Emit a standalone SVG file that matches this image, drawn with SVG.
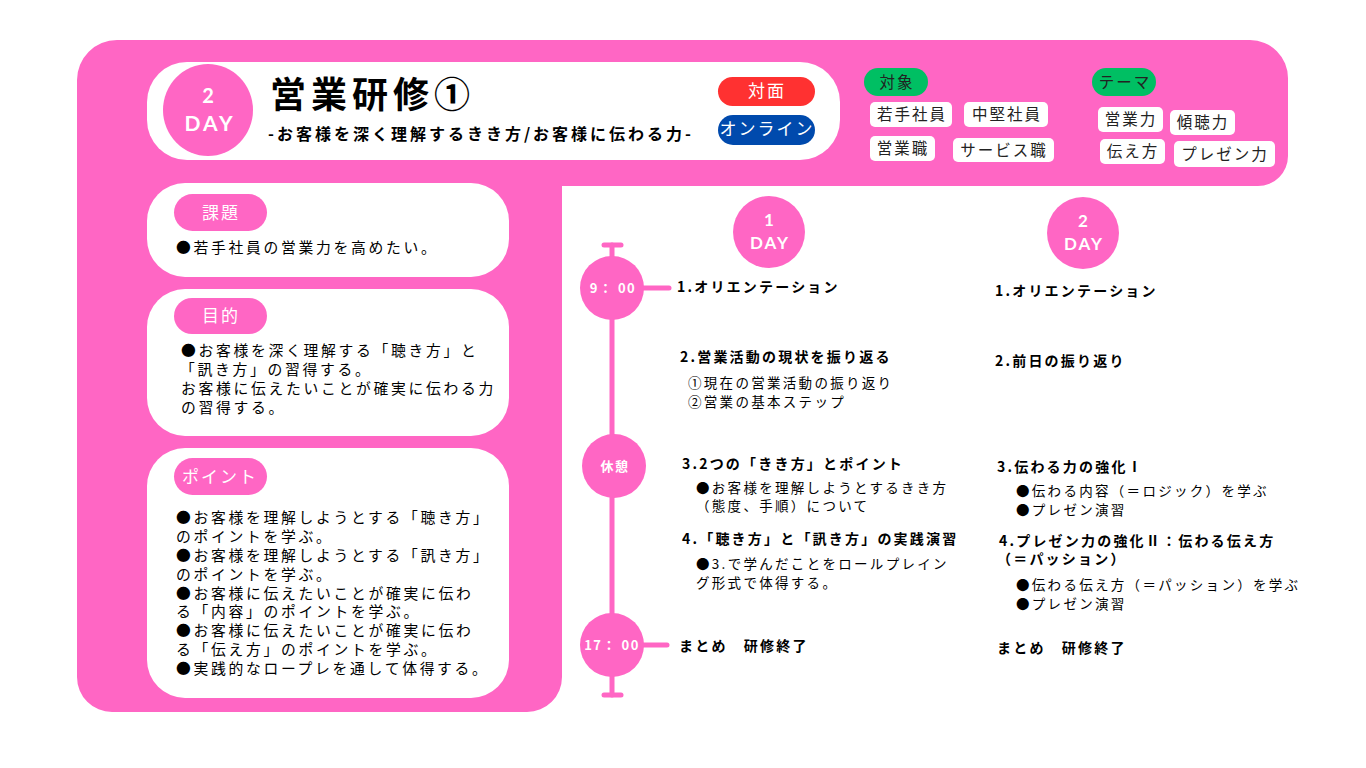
<svg xmlns="http://www.w3.org/2000/svg" width="1366" height="768" viewBox="0 0 1366 768">
<style>
.jp{font-family:"Noto Sans CJK JP","Noto Sans",sans-serif}
.pink{fill:#FF66C4}
.wbox{fill:#FFFFFF}
.tag{fill:#FFFFFF}
.tagt{font-family:"Noto Sans CJK JP",sans-serif;font-size:15.5px;letter-spacing:2px;fill:#222;text-anchor:middle}
.pillt{font-family:"Noto Sans CJK JP",sans-serif;font-size:17px;letter-spacing:2px;fill:#FFFFFF;text-anchor:middle}
.body{font-family:"Noto Sans CJK JP",sans-serif;font-size:14.8px;letter-spacing:2.7px;fill:#000}
.head{font-family:"Noto Sans CJK JP",sans-serif;font-size:14px;font-weight:700;letter-spacing:2.2px;fill:#000}
.sub{font-family:"Noto Sans CJK JP",sans-serif;font-size:13.5px;letter-spacing:2.3px;fill:#000}
.day{font-family:"Lato","Noto Sans",sans-serif;font-weight:700;fill:#FFFFFF;text-anchor:middle}
.time{font-family:"Noto Sans CJK JP",sans-serif;font-weight:700;font-size:13px;letter-spacing:1.5px;fill:#FFFFFF;text-anchor:middle}
.tl{stroke:#FF66C4;stroke-width:5;fill:none;stroke-linecap:round}
</style>
<rect width="1366" height="768" fill="#FFFFFF"/>
<path id="background" class="pink" d="M117,40 H1250 A38,38 0 0 1 1288,78 V156 A30,30 0 0 1 1258,186 H562 V677 A35,35 0 0 1 527,712 H112 A35,35 0 0 1 77,677 V80 A40,40 0 0 1 117,40 Z"/>

<g id="header">
<rect x="147" y="62" width="693" height="98" rx="40" class="wbox"/>
<ellipse cx="208" cy="110" rx="45" ry="46" class="pink"/>
<text x="208" y="103" class="day" font-size="20">2</text>
<text x="210" y="131" class="day" font-size="21" letter-spacing="3">DAY</text>
<text x="270" y="108" class="jp" font-size="36" font-weight="700" letter-spacing="5" fill="#000">営業研修①</text>
<text x="268" y="140" class="jp" font-size="16" font-weight="700" letter-spacing="3" fill="#000">-お客様を深く理解するきき方/お客様に伝わる力-</text>
</g>

<g id="mode-face">
<rect x="718" y="77" width="97" height="29" rx="14.5" fill="#FF3131"/>
<text x="767" y="97" class="pillt" font-size="16">対面</text>
</g>
<g id="mode-online">
<rect x="718" y="115" width="97" height="30" rx="15" fill="#004AAD"/>
<text x="767" y="135" class="pillt" font-size="16" letter-spacing="1">オンライン</text>
</g>

<g id="target">
<rect x="864" y="68" width="64" height="28" rx="14" fill="#00BF63"/>
<text x="897" y="88" class="tagt" fill="#000">対象</text>
<rect x="870" y="102" width="82" height="25" rx="5" class="tag"/>
<text x="912" y="120" class="tagt">若手社員</text>
<rect x="964" y="102" width="84" height="25" rx="5" class="tag"/>
<text x="1007" y="120" class="tagt">中堅社員</text>
<rect x="870" y="136" width="65" height="25" rx="5" class="tag"/>
<text x="903" y="154" class="tagt">営業職</text>
<rect x="953" y="138" width="101" height="24" rx="5" class="tag"/>
<text x="1004" y="156" class="tagt">サービス職</text>
</g>

<g id="theme">
<rect x="1092" y="68" width="64" height="28" rx="14" fill="#00BF63"/>
<text x="1125" y="88" class="tagt" fill="#000" letter-spacing="1">テーマ</text>
<rect x="1098" y="107" width="65" height="25" rx="5" class="tag"/>
<text x="1131" y="125" class="tagt">営業力</text>
<rect x="1170" y="110" width="65" height="25" rx="5" class="tag"/>
<text x="1203" y="128" class="tagt">傾聴力</text>
<rect x="1100" y="139" width="65" height="25" rx="5" class="tag"/>
<text x="1133" y="157" class="tagt">伝え方</text>
<rect x="1174" y="141" width="101" height="26" rx="5" class="tag"/>
<text x="1225" y="160" class="tagt">プレゼン力</text>
</g>

<g id="issue">
<rect x="147" y="183" width="362" height="94" rx="38" class="wbox"/>
<rect x="174" y="194" width="93" height="37" rx="18.5" class="pink"/>
<text x="221" y="219" class="pillt" font-size="18">課題</text>
<text x="176" y="253" class="body">●若手社員の営業力を高めたい。</text>
</g>

<g id="purpose">
<rect x="147" y="289" width="362" height="147" rx="38" class="wbox"/>
<rect x="174" y="298" width="93" height="36" rx="18" class="pink"/>
<text x="221" y="322" class="pillt" font-size="18">目的</text>
<text class="body">
<tspan x="181" y="356">●お客様を深く理解する「聴き方」と</tspan>
<tspan x="180" y="375">「訊き方」の習得する。</tspan>
<tspan x="181" y="394">お客様に伝えたいことが確実に伝わる力</tspan>
<tspan x="181" y="413">の習得する。</tspan>
</text>
</g>

<g id="point">
<rect x="147" y="448" width="362" height="250" rx="38" class="wbox"/>
<rect x="174" y="458" width="93" height="37" rx="18.5" class="pink"/>
<text x="220" y="483" class="pillt" font-size="18">ポイント</text>
<text class="body">
<tspan x="176" y="523">●お客様を理解しようとする「聴き方」</tspan>
<tspan x="176" y="541.9">のポイントを学ぶ。</tspan>
<tspan x="176" y="560.8">●お客様を理解しようとする「訊き方」</tspan>
<tspan x="176" y="579.6">のポイントを学ぶ。</tspan>
<tspan x="176" y="598.5">●お客様に伝えたいことが確実に伝わ</tspan>
<tspan x="176" y="617.4">る「内容」のポイントを学ぶ。</tspan>
<tspan x="176" y="636.3">●お客様に伝えたいことが確実に伝わ</tspan>
<tspan x="176" y="655.1">る「伝え方」のポイントを学ぶ。</tspan>
<tspan x="176" y="674">●実践的なロープレを通して体得する。</tspan>
</text>
</g>

<g id="connectors">
<line x1="612" y1="245" x2="612" y2="695" class="tl"/>
<line x1="604" y1="245" x2="621" y2="245" class="tl"/>
<line x1="604" y1="695" x2="621" y2="695" class="tl"/>
<line x1="640" y1="288" x2="669" y2="288" class="tl" stroke-width="3.5" stroke-linecap="butt"/>
<line x1="640" y1="645" x2="667" y2="645" class="tl" stroke-width="3.5" stroke-linecap="butt"/>
</g>

<g id="t-0900">
<circle cx="612" cy="288" r="32" class="pink"/>
<text x="613" y="293" class="time">9： 00</text>
</g>
<g id="t-break">
<circle cx="614" cy="466" r="32" class="pink"/>
<text x="615" y="471" class="time" font-size="15">休憩</text>
</g>
<g id="t-1700">
<circle cx="612" cy="645" r="32" class="pink"/>
<text x="612" y="650" class="time">17： 00</text>
</g>

<g id="day1">
<circle cx="769" cy="232" r="36" class="pink"/>
<text x="769" y="226" class="day" font-size="17">1</text>
<text x="770" y="249" class="day" font-size="17" letter-spacing="2">DAY</text>
<text x="677" y="292" class="head">1.オリエンテーション</text>
<text x="680" y="362" class="head">2.営業活動の現状を振り返る</text>
<text class="sub"><tspan x="688" y="388">①現在の営業活動の振り返り</tspan><tspan x="688" y="406.5">②営業の基本ステップ</tspan></text>
<text x="682" y="469" class="head" letter-spacing="2.6">3.2つの「きき方」とポイント</text>
<text class="sub"><tspan x="696" y="492.5">●お客様を理解しようとするきき方</tspan><tspan x="696" y="511">（態度、手順）について</tspan></text>
<text x="682" y="544" class="head">4.「聴き方」と「訊き方」の実践演習</text>
<text class="sub"><tspan x="696" y="569">●3.で学んだことをロールプレイン</tspan><tspan x="696" y="587.5">グ形式で体得する。</tspan></text>
<text x="679" y="651" class="head" letter-spacing="3.4">まとめ　研修終了</text>
</g>

<g id="day2">
<circle cx="1083" cy="233" r="36" class="pink"/>
<text x="1083" y="227" class="day" font-size="17">2</text>
<text x="1084" y="250" class="day" font-size="17" letter-spacing="2">DAY</text>
<text x="995" y="296" class="head">1.オリエンテーション</text>
<text x="995" y="366" class="head">2.前日の振り返り</text>
<text x="997" y="472" class="head">3.伝わる力の強化Ⅰ</text>
<text class="sub"><tspan x="1016" y="496">●伝わる内容（＝ロジック）を学ぶ</tspan><tspan x="1016" y="514.5">●プレゼン演習</tspan></text>
<text x="999" y="546" class="head">4.プレゼン力の強化Ⅱ：伝わる伝え方</text>
<text x="997" y="564" class="head">（＝パッション）</text>
<text class="sub"><tspan x="1016" y="590">●伝わる伝え方（＝パッション）を学ぶ</tspan><tspan x="1016" y="608.5">●プレゼン演習</tspan></text>
<text x="997" y="653" class="head" letter-spacing="3.4">まとめ　研修終了</text>
</g>
</svg>
